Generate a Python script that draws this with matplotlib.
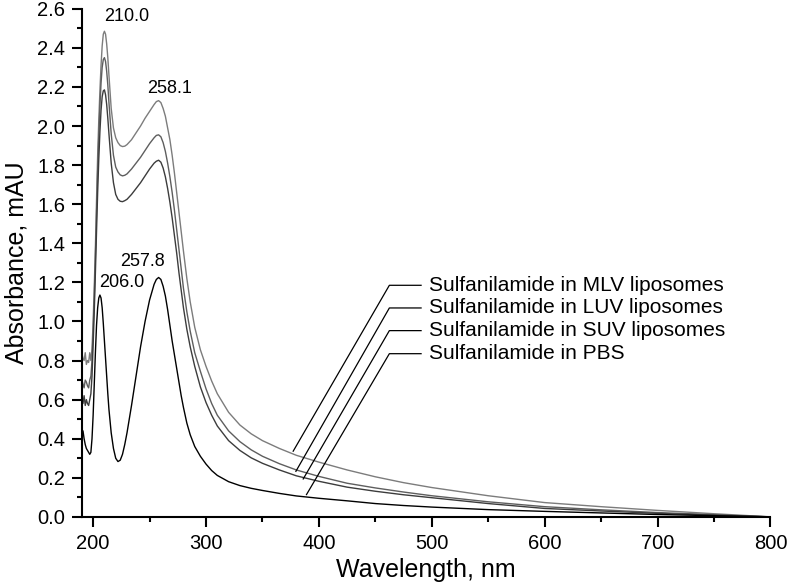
import matplotlib
matplotlib.use("Agg")
import matplotlib.pyplot as plt
from matplotlib.ticker import MultipleLocator, FormatStrFormatter

plt.rcParams["font.family"] = ["Liberation Sans", "DejaVu Sans"]

# UV-Vis spectra (wavelength in nm)
wavelength = [190, 191, 192, 193, 194, 195, 196, 197, 198, 199, 200, 201, 202, 203, 204,
              205, 206, 207, 208, 209, 210, 211, 212, 213, 214, 216, 218, 220, 222, 224,
              226, 228, 230, 234, 238, 242, 246, 250, 254, 256, 258, 260, 262, 264, 266,
              268, 270, 272, 274, 276, 278, 280, 283, 286, 290, 295, 300, 305, 310, 320,
              330, 340, 350, 365, 380, 400, 425, 450, 475, 500, 550, 600, 650, 700, 750, 800]

mlv = [0.84, 0.81, 0.80, 0.84, 0.78, 0.80, 0.79, 0.84, 0.80, 0.86, 1.00, 1.18, 1.38, 1.62, 1.85,
       2.03, 2.18, 2.31, 2.41, 2.47, 2.485, 2.47, 2.42, 2.35, 2.26, 2.09, 1.99, 1.94, 1.915, 1.90,
       1.895, 1.897, 1.905, 1.93, 1.965, 2.00, 2.04, 2.075, 2.11, 2.125, 2.13, 2.12, 2.09, 2.05, 1.99,
       1.93, 1.85, 1.76, 1.66, 1.56, 1.46, 1.36, 1.22, 1.10, 0.97, 0.855, 0.77, 0.695, 0.63, 0.535,
       0.47, 0.425, 0.39, 0.35, 0.315, 0.28, 0.24, 0.205, 0.175, 0.15, 0.108, 0.073, 0.052, 0.033, 0.016, 0.0]

luv = [0.70, 0.68, 0.66, 0.70, 0.69, 0.67, 0.66, 0.70, 0.72, 0.80, 0.95, 1.12, 1.33, 1.55, 1.77,
       1.95, 2.10, 2.22, 2.30, 2.34, 2.35, 2.33, 2.28, 2.21, 2.12, 1.96, 1.85, 1.79, 1.765, 1.75,
       1.745, 1.748, 1.755, 1.78, 1.81, 1.84, 1.875, 1.91, 1.94, 1.952, 1.955, 1.945, 1.915, 1.87, 1.81,
       1.74, 1.66, 1.57, 1.47, 1.37, 1.27, 1.17, 1.05, 0.95, 0.84, 0.745, 0.655, 0.58, 0.52, 0.44,
       0.385, 0.343, 0.31, 0.272, 0.24, 0.207, 0.172, 0.148, 0.127, 0.108, 0.077, 0.052, 0.036, 0.022, 0.011, 0.0]

suv = [0.60, 0.58, 0.62, 0.57, 0.60, 0.58, 0.57, 0.60, 0.63, 0.72, 0.88, 1.05, 1.25, 1.46, 1.66,
       1.83, 1.97, 2.08, 2.15, 2.18, 2.185, 2.16, 2.11, 2.04, 1.96, 1.81, 1.71, 1.65, 1.625, 1.615,
       1.613, 1.618, 1.625, 1.65, 1.68, 1.71, 1.745, 1.78, 1.81, 1.82, 1.825, 1.815, 1.785, 1.74, 1.68,
       1.61, 1.53, 1.44, 1.35, 1.25, 1.16, 1.07, 0.96, 0.87, 0.77, 0.665, 0.585, 0.52, 0.465, 0.39,
       0.34, 0.302, 0.274, 0.24, 0.21, 0.182, 0.152, 0.131, 0.113, 0.098, 0.068, 0.043, 0.030, 0.018, 0.009, 0.0]

pbs = [0.42, 0.44, 0.40, 0.37, 0.35, 0.34, 0.33, 0.32, 0.33, 0.40, 0.52, 0.68, 0.84, 0.98, 1.07,
       1.12, 1.135, 1.12, 1.07, 0.99, 0.90, 0.81, 0.72, 0.63, 0.55, 0.43, 0.35, 0.30, 0.283, 0.29,
       0.32, 0.37, 0.43, 0.57, 0.72, 0.87, 1.00, 1.11, 1.19, 1.215, 1.225, 1.215, 1.18, 1.13, 1.06,
       0.98, 0.90, 0.83, 0.76, 0.69, 0.62, 0.56, 0.48, 0.42, 0.36, 0.31, 0.27, 0.237, 0.212, 0.18,
       0.16, 0.146, 0.135, 0.12, 0.107, 0.095, 0.082, 0.068, 0.058, 0.050, 0.037, 0.028, 0.020, 0.012, 0.006, 0.0]

series_labels = ["Sulfanilamide in MLV liposomes", "Sulfanilamide in LUV liposomes",
                 "Sulfanilamide in SUV liposomes", "Sulfanilamide in PBS"]
series_colors = ["#7c7c7c", "#5e5e5e", "#3c3c3c", "#000000"]

# leader lines: curve end (wl, A) -> elbow (wl, A); text sits after the elbow
leader_start = [(377.2, 0.336), (379.6, 0.233), (386.1, 0.194), (389.0, 0.114)]
leader_elbow_wl = 462.4
leader_end_wl = 490.5
label_levels = [1.185, 1.069, 0.953, 0.835]
label_wl = 497.5

# peak annotations: text, (wl, A) of text centre
peak_texts = ["210.0", "258.1", "257.8", "206.0"]
peak_pos = [(229.5, 2.56), (267.6, 2.194), (244.1, 1.307), (225.0, 1.197)]

fig = plt.figure(figsize=(7.87, 5.86), dpi=100)
ax = fig.add_axes([0.104, 0.118, 0.875, 0.867])

for values, color in zip([mlv, luv, suv, pbs], series_colors):
    ax.plot(wavelength, values, color=color, lw=1.0)

for (x0, y0), level, text in zip(leader_start, label_levels, series_labels):
    ax.plot([x0, leader_elbow_wl, leader_end_wl], [y0, level, level], color="black", lw=0.9)
    ax.text(label_wl, level, text, fontsize=15, va="center", ha="left")

for text, (x, y) in zip(peak_texts, peak_pos):
    ax.text(x, y, text, fontsize=13, ha="center", va="center")

ax.set_xlim(190, 800)
ax.set_ylim(0, 2.6)
ax.xaxis.set_major_locator(MultipleLocator(100))
ax.xaxis.set_minor_locator(MultipleLocator(50))
ax.yaxis.set_major_locator(MultipleLocator(0.2))
ax.yaxis.set_minor_locator(MultipleLocator(0.1))
ax.yaxis.set_major_formatter(FormatStrFormatter("%.1f"))

for side in ("top", "right"):
    ax.spines[side].set_visible(False)
for side in ("left", "bottom"):
    ax.spines[side].set_linewidth(1.5)

ax.tick_params(which="major", direction="out", length=7, width=1.5, labelsize=14.5, pad=5)
ax.tick_params(which="minor", direction="out", length=3.6, width=1.5)

ax.set_xlabel("Wavelength, nm", fontsize=18, labelpad=4)
ax.set_ylabel("Absorbance, mAU", fontsize=18, labelpad=6)

fig.savefig("out.png", dpi=100)
